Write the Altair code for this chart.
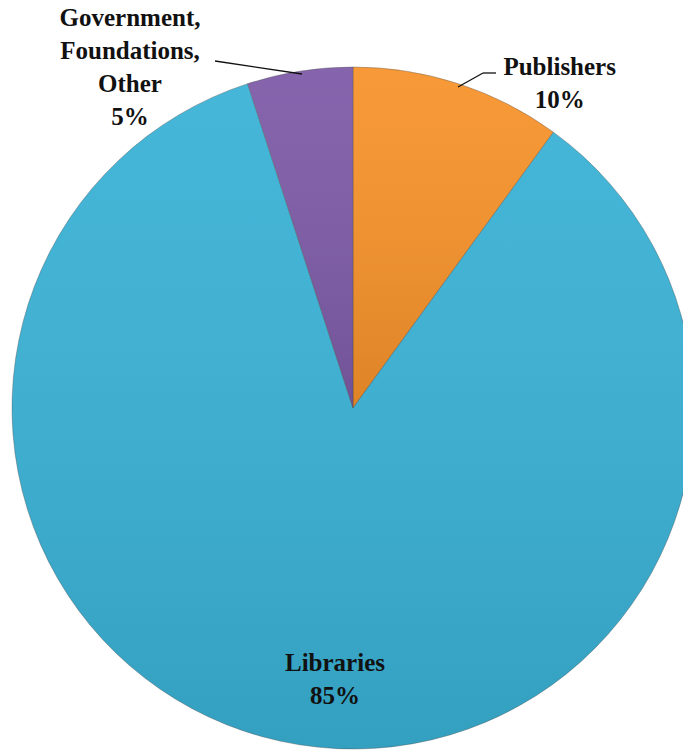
import altair as alt
import pandas as pd

# ---- data ----
categories = ["Publishers", "Libraries", "Government, Foundations, Other"]
shares = [10, 85, 5]
label_text = ["Publishers\n10%", "Libraries\n85%", "Government,\nFoundations,\nOther\n5%"]
slice_colors = ["#F7932B", "#3AB2D6", "#7E5BA8"]

df = pd.DataFrame({
    "category": categories,
    "share": shares,
    "label": label_text,
    "order": list(range(len(categories))),
})

CX, CY, R = 353, 408, 341
FONT = "'Times New Roman', 'Liberation Serif', 'DejaVu Serif', serif"

base = alt.Chart(df)

pie = base.mark_arc(x=CX, y=CY, radius=R, stroke="#4a4a4a", strokeWidth=0.8, strokeOpacity=0.45).encode(
    theta=alt.Theta("share:Q", stack=True, scale=alt.Scale(domain=[0, 100])),
    order=alt.Order("order:Q"),
    color=alt.Color("category:N", scale=alt.Scale(domain=categories, range=slice_colors), legend=None),
)

shade = base.mark_arc(
    x=CX, y=CY, radius=R,
    fill=alt.Gradient(
        gradient="linear", x1=0, y1=0, x2=0, y2=1,
        stops=[alt.GradientStop(offset=0, color="rgba(255,255,255,0.06)"),
               alt.GradientStop(offset=1, color="rgba(0,0,0,0.10)")],
    ),
).encode(
    theta=alt.Theta("share:Q", stack=True, scale=alt.Scale(domain=[0, 100])),
    order=alt.Order("order:Q"),
)

def label_layer(cat, radius, dx, dy=0):
    return (
        base.transform_window(cum="sum(share)", sort=[alt.SortField("order")])
        .transform_calculate(mid="datum.cum - datum.share / 2")
        .transform_filter(alt.datum.category == cat)
        .mark_text(x=CX, y=CY, radius=radius, dx=dx, dy=dy, align="center", baseline="middle",
                   lineBreak="\n", lineHeight=33, font=FONT, fontSize=25, fontWeight="bold", color="#111111")
        .encode(
            theta=alt.Theta("mid:Q", stack=None, scale=alt.Scale(domain=[0, 100])),
            text="label:N",
        )
    )

lab_pub = label_layer("Publishers", 342, 101, -16)
lab_lib = label_layer("Libraries", 275, 25, -17)
lab_gov = label_layer("Government, Foundations, Other", 345, -169, -49)

one = base.transform_filter(alt.datum.order == 0)
lead_gov = one.mark_rule(color="#111111", strokeWidth=1.3).encode(
    x=alt.value(215), y=alt.value(61), x2=alt.value(302), y2=alt.value(74))
lead_pub1 = one.mark_rule(color="#111111", strokeWidth=1.3).encode(
    x=alt.value(458), y=alt.value(87), x2=alt.value(483), y2=alt.value(73))
lead_pub2 = one.mark_rule(color="#111111", strokeWidth=1.3).encode(
    x=alt.value(483), y=alt.value(73), x2=alt.value(496), y2=alt.value(73))

chart = alt.layer(
    pie, shade, lead_gov, lead_pub1, lead_pub2, lab_pub, lab_lib, lab_gov
).properties(
    width=683, height=750, padding=0, autosize=alt.AutoSizeParams(type="none"), background="white"
).configure_view(stroke=None)

chart.save("out.html", embed_options={"renderer": "svg", "actions": False})
